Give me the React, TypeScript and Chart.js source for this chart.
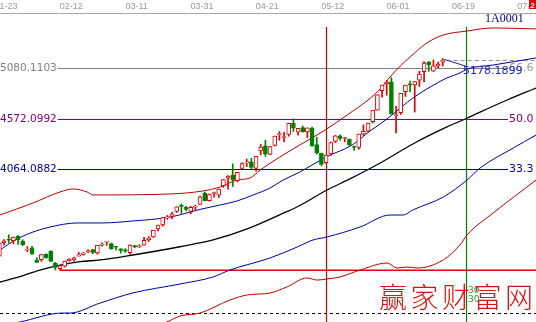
import React, { useEffect, useRef } from "react";
import { Chart, registerables } from "chart.js";

Chart.register(...registerables);

// ---------------- data ----------------
// trading days (index 0 = 2015-01-21)
const candleDates = [
  "01-21","01-22","01-23","01-26","01-27","01-28","01-29","01-30","02-02","02-03",
  "02-04","02-05","02-06","02-09","02-10","02-11","02-12","02-13","02-16","02-17",
  "02-25","02-26","02-27","03-02","03-03","03-04","03-05","03-06","03-09","03-10",
  "03-11","03-12","03-13","03-16","03-17","03-18","03-19","03-20","03-23","03-24",
  "03-25","03-26","03-27","03-30","03-31","04-01","04-02","04-03","04-07","04-08",
  "04-09","04-10","04-13","04-14","04-15","04-16","04-17","04-20","04-21","04-22",
  "04-23","04-24","04-27","04-28","04-29","04-30","05-04","05-05","05-06","05-07",
  "05-08","05-11","05-12","05-13","05-14","05-15","05-18","05-19","05-20","05-21",
  "05-22","05-25","05-26","05-27","05-28","05-29","06-01","06-02","06-03","06-04",
  "06-05","06-08","06-09","06-10","06-11","06-12",
];
const openV = [
  3189,3327,3359,3347,3392,3339,3250,3273,3148,3156,
  3212,3242,3120,3064,3090,3145,3154,3191,3208,3234,
  3257,3222,3301,3332,3317,3282,3264,3255,3225,3294,
  3284,3302,3354,3384,3464,3505,3576,3590,3640,3701,
  3682,3640,3683,3710,3822,3748,3820,3804,3899,3975,
  4007,3950,4072,4129,4139,4074,4250,4301,4213,4304,
  4412,4384,4416,4527,4438,4483,4441,4479,4312,4226,
  4130,4220,4345,4400,4374,4367,4289,4285,4418,4448,
  4542,4660,4855,4922,4943,4603,4633,4844,4924,4912,
  4961,5045,5146,5050,5101,5143,
];
const highV = [
  3337,3358,3406,3384,3398,3355,3286,3288,3175,3207,
  3213,3244,3129,3096,3141,3166,3181,3229,3228,3256,
  3260,3300,3324,3336,3322,3286,3265,3266,3303,3299,
  3305,3379,3386,3449,3503,3577,3600,3632,3688,3715,
  3692,3692,3703,3795,3835,3817,3835,3866,3961,4000,
  4119,4034,4128,4168,4175,4195,4317,4356,4294,4398,
  4444,4436,4529,4572.4,4477,4499,4480,4488,4387,4226,
  4206,4338,4405,4412,4387,4369,4301,4418,4511,4529,
  4658,4814,4911,4958,4986,4698,4829,4911,4951,4948,
  5051,5147,5147,5164,5143,5178.1899,
];
const lowV = [
  3189,3300,3322,3314,3309,3297,3234,3210,3129,3138,
  3171,3137,3052,3049.11,3080,3139,3141,3191,3200,3226,
  3215,3210,3291,3298,3260,3250,3221,3228,3212,3275,
  3276,3300,3338,3378,3443,3492,3560,3567,3630,3621,
  3645,3617,3653,3710,3747,3743,3784,3781,3882,3863,
  3891,3937,4071,4091,4071,4045,4209,4194,4212,4299,
  4356,4339,4397,4445,4407,4437,4383,4293,4217,4099,
  4123,4205,4333,4357,4340,4304,4253,4265,4404,4442,
  4531,4659,4789,4810,4618,4431,4616,4797,4846,4640,
  4897,4942,5049,5049,5085,5103,
];
const closeV = [
  3323.6,3343.3,3351.8,3383.2,3353.0,3305.7,3262.3,3210.4,3128.3,3204.9,
  3174.1,3136.5,3075.9,3095.1,3141.6,3157.7,3173.4,3203.8,3222.4,3246.9,
  3228.8,3298.4,3310.3,3336.3,3263.1,3279.5,3248.5,3241.2,3302.4,3286.1,
  3290.9,3349.3,3372.9,3449.3,3502.9,3577.3,3582.3,3617.3,3687.7,3691.4,
  3660.7,3682.1,3691.1,3786.6,3747.9,3810.3,3825.8,3863.9,3961.4,3994.8,
  3957.5,4034.3,4121.7,4135.6,4084.2,4194.8,4287.3,4217.1,4293.6,4398.5,
  4414.5,4393.7,4527.4,4476.6,4476.2,4441.7,4480.5,4298.7,4229.3,4112.2,
  4205.9,4333.6,4401.2,4375.8,4378.3,4308.7,4283.5,4417.6,4446.3,4529.4,
  4657.6,4813.8,4910.9,4941.7,4620.3,4611.7,4828.7,4910.5,4910.0,4947.1,
  5023.1,5131.9,5113.5,5106.0,5121.6,5166.4,
];

// top date axis
const tickIndex = [2, 16, 30, 44, 58, 72, 86, 100, 114];
const tickLabels = ["01-23", "02-12", "03-11", "03-31", "04-21", "05-12", "06-01", "06-19", "07-10"];

// bands (trading-day index, value)
const upperRedX = [0.1,7.2,13.0,15.8,18.8,20.1,36.6,43.6,47.3,50.9,53.7,55.9,60.1,64.4,69.8,74.5,79.0,81.6,83.7,85.9,88.0,91.6,95.1,100.2,105.8,115.0];
const upperRedY = [3604,3725,3836,3866,3836,3806,3816,3846,3886,3956,3977,4057,4188,4309,4459,4610,4761,4872,4993,5103,5194,5335,5415,5455,5486,5476];
const upperBlueX = [0.1,3.8,7.2,10.9,16.6,21.6,28.6,36.6,43.4,47.3,50.9,54.4,58.0,60.8,64.4,70.0,75.6,79.4,81.6,84.1,88.6,93.8,95.9,98.7,100.2,105.8,115.0];
const upperBlueY = [3252,3363,3433,3484,3524,3524,3544,3584,3665,3705,3745,3806,3876,3956,4037,4188,4309,4449,4520,4610,4781,4932,4983,5033,5073,5113,5184];
const midX = [0.1,4.4,8.7,13.0,17.3,21.6,28.6,38.7,45.8,53.1,61.2,64.4,70.2,75.1,81.6,88.6,95.9,99.8,103.0,108.8,115.0];
const midY = [2930,2984,3051,3101,3135,3152,3202,3285,3353,3464,3630,3700,3856,3967,4127,4319,4490,4570,4640,4761,4882];
const lowerBlueX = [0.1,4.4,13.6,15.1,21.6,28.6,38.7,45.8,49.4,58.0,63.8,67.2,70.2,77.3,83.7,86.5,88.6,95.1,100.2,103.0,110.1,115.0];
const lowerBlueY = [2488,2528,2618,2618,2719,2820,2910,2981,3051,3172,3282,3353,3383,3484,3604,3604,3655,3785,3956,4077,4278,4409];
const lowerRedX = [32.3,35.9,38.7,43.0,49.4,53.1,58.0,61.6,65.9,68.1,70.2,73.0,77.3,83.1,85.2,87.4,89.5,95.1,98.7,100.2,105.8,115.0];
const lowerRedY = [2468,2528,2588,2618,2749,2800,2820,2880,2971,2950,2961,2981,3051,3121,3071,3081,3071,3152,3303,3403,3624,3956];

// golden section levels
const levelValues = [5080.1103, 4572.0992, 4064.0882];
const levelPct = ["66.6", "50.0", "33.3"];
const levelColors = ["#808080", "#800080", "#0000a0"];

const lowIndex = 13; // 02-09 low
const redMarkIndex = 70; // 05-08
const greenMarkIndex = 100; // 06-19
const dashedValue = 2615;
const highIndex = 95;

const W = 536;
const H = 322;

const RED = "#e00000";
const GREEN = "#008000";

const pts = (xs: number[], ys: number[]) => xs.map((x, i) => ({ x, y: ys[i] }));

const overlay = {
  id: "overlay",
  beforeDraw(chart: any) {
    const ctx = chart.ctx;
    ctx.save();
    ctx.fillStyle = "#ffffff";
    ctx.fillRect(0, 0, W, H);
    ctx.restore();
  },
  beforeDatasetsDraw(chart: any) {
    const ctx = chart.ctx;
    const xs = chart.scales.x;
    const ys = chart.scales.y;
    ctx.save();
    // level lines
    ctx.font = '10.5px "DejaVu Sans"';
    levelValues.forEach((v, k) => {
      const py = Math.round(ys.getPixelForValue(v)) + 0.5;
      const w = ctx.measureText(v.toFixed(4)).width;
      ctx.strokeStyle = levelColors[k];
      ctx.lineWidth = 1;
      ctx.beginPath();
      ctx.moveTo(w + 1, py);
      ctx.lineTo(508, py);
      ctx.stroke();
    });
    // low line
    const ly = ys.getPixelForValue(lowV[lowIndex]);
    ctx.strokeStyle = RED;
    ctx.lineWidth = 1.6;
    ctx.beginPath();
    ctx.moveTo(xs.getPixelForValue(lowIndex), ly);
    ctx.lineTo(W, ly);
    ctx.stroke();
    // dashed black
    const dy = Math.round(ys.getPixelForValue(dashedValue)) + 0.5;
    ctx.strokeStyle = "#000";
    ctx.lineWidth = 1;
    ctx.setLineDash([3, 3]);
    ctx.beginPath();
    ctx.moveTo(0, dy);
    ctx.lineTo(W, dy);
    ctx.stroke();
    ctx.setLineDash([]);
    // vertical markers
    const rx = Math.round(xs.getPixelForValue(redMarkIndex)) + 0.5;
    ctx.strokeStyle = "#d00000";
    ctx.lineWidth = 1.2;
    ctx.beginPath();
    ctx.moveTo(rx, 27);
    ctx.lineTo(rx, H);
    ctx.stroke();
    const gx = Math.round(xs.getPixelForValue(greenMarkIndex)) + 0.5;
    ctx.strokeStyle = GREEN;
    ctx.lineWidth = 1.2;
    ctx.beginPath();
    ctx.moveTo(gx, 27);
    ctx.lineTo(gx, H);
    ctx.stroke();
    // high dashed + pointer
    const hv = highV[highIndex];
    const hx = xs.getPixelForValue(highIndex);
    const hy = ys.getPixelForValue(hv);
    ctx.strokeStyle = "#909090";
    ctx.lineWidth = 1;
    ctx.setLineDash([4, 3]);
    ctx.beginPath();
    ctx.moveTo(hx + 4, Math.round(hy) + 1.5);
    ctx.lineTo(W, Math.round(hy) + 1.5);
    ctx.stroke();
    ctx.setLineDash([]);
    ctx.strokeStyle = "#2020c0";
    ctx.beginPath();
    ctx.moveTo(hx + 2, hy + 1);
    ctx.lineTo(gx - 1, hy + 7.5);
    ctx.stroke();
    ctx.restore();
  },
  afterDraw(chart: any) {
    const ctx = chart.ctx;
    const xs = chart.scales.x;
    const ys = chart.scales.y;
    ctx.save();
    // top axis
    ctx.strokeStyle = "#a8a8a8";
    ctx.lineWidth = 1;
    ctx.beginPath();
    ctx.moveTo(0, 13.5);
    ctx.lineTo(W, 13.5);
    ctx.stroke();
    ctx.font = '9px "Liberation Sans"';
    ctx.fillStyle = "#9a9a9a";
    ctx.textAlign = "center";
    ctx.textBaseline = "alphabetic";
    tickIndex.forEach((ti, k) => {
      ctx.fillText(tickLabels[k], xs.getPixelForValue(ti) - 2.7, 9);
    });
    // red box
    ctx.fillStyle = "#e00000";
    ctx.fillRect(529, 0, 7, 9);
    ctx.fillStyle = "#ffffff";
    ctx.font = 'bold 8px "Liberation Sans"';
    ctx.fillText("2", 532.5, 8);
    // code
    ctx.textAlign = "left";
    ctx.fillStyle = "#000080";
    ctx.font = '12px "Liberation Serif"';
    ctx.fillText("1A0001", 485, 22);
    // level labels
    ctx.font = '10.5px "DejaVu Sans"';
    ctx.textBaseline = "middle";
    levelValues.forEach((v, k) => {
      const py = ys.getPixelForValue(v);
      ctx.fillStyle = levelColors[k];
      ctx.fillText(v.toFixed(4), 0, py);
      ctx.fillStyle = k === 0 ? "#9a9a9a" : levelColors[k];
      ctx.font = '11px "DejaVu Sans"';
      ctx.fillText(levelPct[k], 509, py);
      ctx.font = '10.5px "DejaVu Sans"';
    });
    // high label
    const hv = highV[highIndex];
    const hy = ys.getPixelForValue(hv);
    const gx = xs.getPixelForValue(greenMarkIndex);
    ctx.fillStyle = "#2424c0";
    ctx.font = '11px "DejaVu Sans"';
    ctx.textBaseline = "top";
    ctx.fillText(hv.toFixed(4), gx - 3, hy + 7);
    // small green labels
    ctx.fillStyle = "#2a9d2a";
    ctx.font = '9px "DejaVu Sans"';
    ctx.textBaseline = "middle";
    ctx.fillText("30", gx + 2, 291);
    ctx.fillText("30", gx + 2, 300);
    // watermark
    ctx.fillStyle = "#e01010";
    ctx.font = '300 28px "Noto Sans CJK SC"';
    (ctx as any).letterSpacing = "3.5px";
    ctx.fillText("赢家财富网", 379, 297);
    ctx.restore();
  },
};

export default function App() {
  const ref = useRef<HTMLCanvasElement | null>(null);
  useEffect(() => {
    if (!ref.current) return;
    const idx = closeV.map((_, i) => i);
    const up = closeV.map((c, i) => c >= openV[i]);
    const lineDs = (label: string, xs: number[], ys: number[], color: string, width: number) => ({
      type: "line" as const,
      label,
      data: pts(xs, ys),
      borderColor: color,
      borderWidth: width,
      pointRadius: 0,
      fill: false,
      cubicInterpolationMode: "monotone" as const,
      order: 5,
    });
    const chart = new Chart(ref.current, {
      type: "bar",
      data: {
        datasets: [
          {
            type: "bar",
            label: "body",
            data: idx.map((i) => ({ x: i, y: [openV[i], closeV[i]] })) as any,
            backgroundColor: up.map((u) => (u ? "#ffffff" : GREEN)),
            borderColor: up.map((u) => (u ? RED : GREEN)),
            borderWidth: 1,
            borderSkipped: false,
            barThickness: 4,
            minBarLength: 1,
            grouped: false,
            order: 1,
          } as any,
          {
            type: "bar",
            label: "wick",
            data: idx.map((i) => ({ x: i, y: [lowV[i], highV[i]] })) as any,
            backgroundColor: up.map((u) => (u ? RED : GREEN)),
            borderWidth: 0,
            barThickness: 1,
            grouped: false,
            order: 2,
          } as any,
          lineDs("upperRed", upperRedX, upperRedY, "#c00000", 1),
          lineDs("upperBlue", upperBlueX, upperBlueY, "#0000aa", 1),
          lineDs("mid", midX, midY, "#000000", 1.3),
          lineDs("lowerBlue", lowerBlueX, lowerBlueY, "#0000aa", 1),
          lineDs("lowerRed", lowerRedX, lowerRedY, "#c00000", 1),
        ] as any,
      },
      options: {
        animation: false,
        responsive: false,
        devicePixelRatio: 1,
        layout: { padding: 0 },
        plugins: { legend: { display: false }, tooltip: { enabled: false }, title: { display: false } },
        scales: {
          x: { type: "linear", min: 0.135, max: 114.98, display: false, offset: false },
          y: { type: "linear", min: 2527.9, max: 5767.2, display: false },
        },
      } as any,
      plugins: [overlay],
    });
    return () => chart.destroy();
  }, []);
  return (
    <div style={{ position: "fixed", left: 0, top: 0, width: W, height: H, background: "#fff" }}>
      <canvas ref={ref} width={W} height={H} style={{ width: W, height: H, display: "block" }} />
    </div>
  );
}
